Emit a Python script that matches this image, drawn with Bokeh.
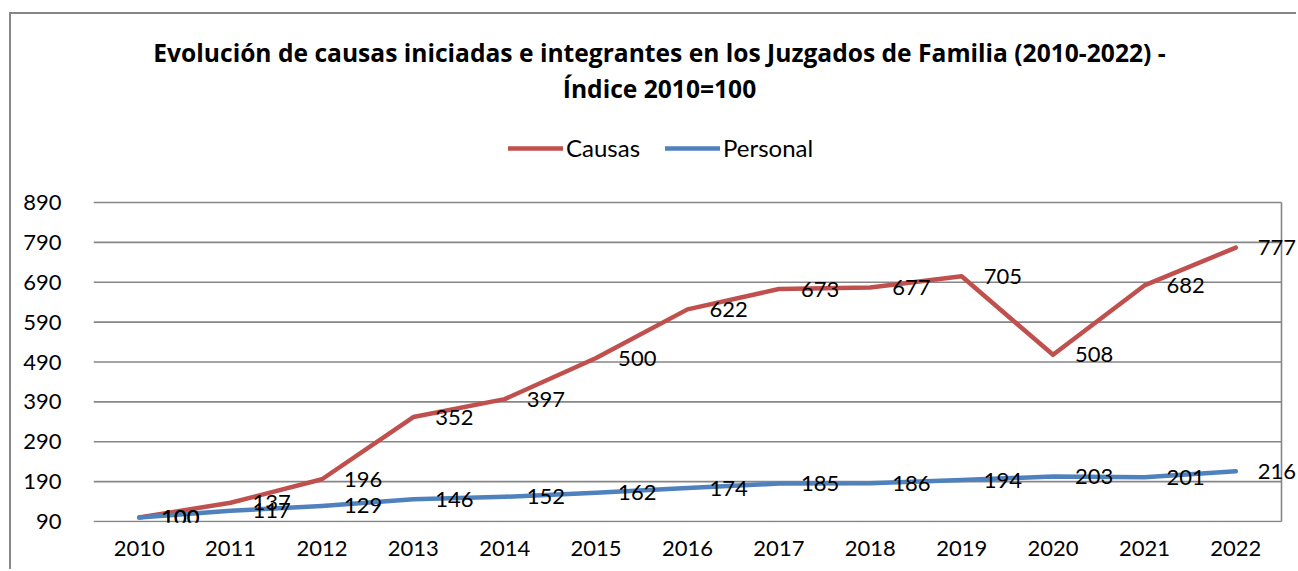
from bokeh.plotting import figure
from bokeh.models import (Range1d, FixedTicker, Label, Legend, LegendItem, ColumnDataSource)
from bokeh.core.properties import value
from bokeh.embed import file_html
from bokeh.resources import INLINE

years = ["2010", "2011", "2012", "2013", "2014", "2015", "2016",
         "2017", "2018", "2019", "2020", "2021", "2022"]
causas = [100, 137, 196, 352, 397, 500, 622, 673, 677, 705, 508, 682, 777]
personal = [100, 117, 129, 146, 152, 162, 174, 185, 186, 194, 203, 201, 216]
y_ticks = [90, 190, 290, 390, 490, 590, 690, 790, 890]
title_lines = ["Evolución de causas iniciadas e integrantes en los Juzgados de Familia (2010-2022) -",
               "Índice 2010=100"]

RED = "#C0504D"
BLUE = "#4F81BD"
GRID = "#868686"
FONT = "Lato"
TITLE_FONT = "Open Sans"

# category centres on a numeric axis (0.5, 1.5, ...)
xpos = [i + 0.5 for i in range(len(years))]
n_cat = len(years)

W, H = 1287, 557
p = figure(width=W, height=H, title=None,
           x_range=Range1d(0, 13.186), y_range=Range1d(87.5, 1361.5),
           output_backend="svg", toolbar_location=None,
           min_border_left=82, min_border_right=0, min_border_top=0, min_border_bottom=49)
p.styles = {"margin-left": "9px", "margin-top": "12px",
            "border-left": "2px solid #868686", "border-top": "2px solid #868686"}
p.outline_line_color = None
p.background_fill_color = "white"
p.border_fill_color = "white"
p.grid.grid_line_color = None

p.xaxis.ticker = FixedTicker(ticks=xpos)
p.xaxis.major_label_overrides = {x: y for x, y in zip(xpos, years)}
p.yaxis.ticker = FixedTicker(ticks=y_ticks)
for ax in (p.xaxis[0], p.yaxis[0]):
    ax.axis_line_color = None
    ax.major_tick_line_color = None
    ax.minor_tick_line_color = None
    ax.major_label_text_font = FONT
    ax.major_label_text_font_size = "22px"
    ax.major_label_text_color = "black"
p.yaxis.major_label_standoff = 26
p.xaxis.major_label_standoff = 12

# horizontal gridlines across the plot area, and its right border
p.segment(x0=[0] * len(y_ticks), x1=[n_cat] * len(y_ticks), y0=y_ticks, y1=y_ticks,
          line_color=GRID, line_width=1.6)
p.segment(x0=[n_cat], x1=[n_cat], y0=[y_ticks[0]], y1=[y_ticks[-1]],
          line_color=GRID, line_width=1.6)

src = ColumnDataSource(dict(x=xpos, c=causas, pe=personal,
                            ct=[str(v) for v in causas], pt=[str(v) for v in personal]))
r1 = p.line("x", "c", source=src, line_color=RED, line_width=4.5, line_cap="round", line_join="round")
r2 = p.line("x", "pe", source=src, line_color=BLUE, line_width=4.5, line_cap="round", line_join="round")

for col, ycol in (("pt", "pe"), ("ct", "c")):
    p.text(x="x", y=ycol, text=col, source=src, x_offset=22,
           text_align="left", text_baseline="middle", text_font=value(FONT),
           text_font_size="22px", text_color="black")

legend = Legend(items=[LegendItem(label="Causas", renderers=[r1]),
                       LegendItem(label="Personal", renderers=[r2])],
                orientation="horizontal", location=(415, 360),
                glyph_width=55, glyph_height=22, label_standoff=3, spacing=25,
                padding=0, margin=0, border_line_color=None, background_fill_alpha=0,
                label_text_font=FONT, label_text_font_size="24px", label_height=22,
                label_text_color="black")
p.add_layout(legend, "center")

p.add_layout(Label(x=566, y=470, x_units="screen", y_units="screen", text=title_lines[0],
                   text_align="center", text_baseline="middle", text_font=TITLE_FONT,
                   text_font_size="24.6px", text_font_style="bold", text_color="black"))
p.add_layout(Label(x=566, y=434, x_units="screen", y_units="screen", text=title_lines[1],
                   text_align="center", text_baseline="middle", text_font=TITLE_FONT,
                   text_font_size="24.6px", text_font_style="bold", text_color="black"))

open("out.html", "w").write(file_html(p, INLINE))
